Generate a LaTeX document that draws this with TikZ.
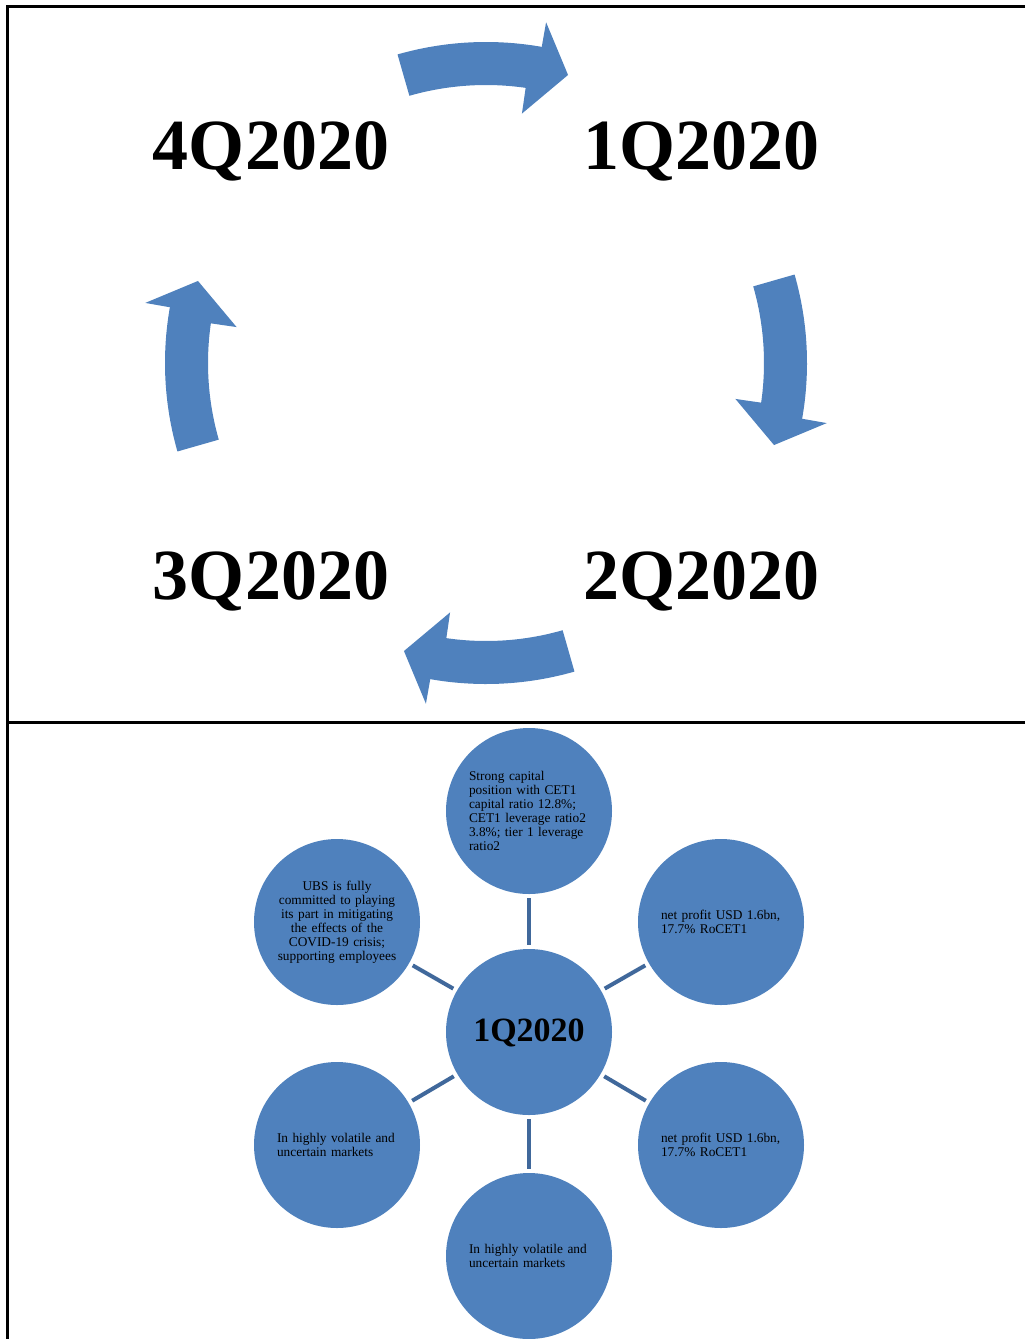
\documentclass[tikz,border=0pt]{standalone}
\usepackage{fontspec}
\setmainfont{Liberation Serif}
\definecolor{arrowblue}{RGB}{79,129,189}
\definecolor{linkblue}{RGB}{64,104,155}
\begin{document}
\begin{tikzpicture}[x=0.75pt,y=-0.75pt,
  frame/.style={line width=2.25pt,black,line join=miter},
  cyclearrow/.style={fill=arrowblue,draw=none},
  quarter/.style={font=\fontsize{54}{60}\selectfont\bfseries,inner sep=0pt},
  bubble/.style={circle,fill=arrowblue,minimum size=124.5pt,inner sep=0pt,
    font=\fontsize{10}{10.5}\selectfont,text width=90pt},
  hub/.style={circle,fill=arrowblue,minimum size=124.5pt,inner sep=0pt,
    font=\fontsize{25.5}{28}\selectfont\bfseries},
  link/.style={draw=linkblue,line width=3pt,shorten <=3pt,shorten >=3pt}]
\useasboundingbox (0,0) rectangle (1025,1339);
% frame
\draw[frame] (1025,6) -- (7,6) -- (7,1339);
\draw[frame] (7,722) -- (1025,722);
% cycle arrows
\begin{scope}[shift={(486,363)},yscale=-1]
\foreach \c in {90,0,-90,180} {
  \fill[cyclearrow] ({\c+16}:321) arc[start angle={\c+16},end angle={\c-10},radius=321]
    -- ({\c-10}:346) -- ({\c-15.9}:299.5) -- ({\c-8.2}:252) -- ({\c-8.2}:278)
    arc[start angle={\c-8.2},end angle={\c+16},radius=278] -- cycle;
}
\end{scope}
% quarter labels
\node[quarter] (q4) at (271,151) {4Q2020};
\node[quarter] (q1) at (701,151) {1Q2020};
\node[quarter] (q3) at (271,581) {3Q2020};
\node[quarter] (q2) at (701,581) {2Q2020};
% hub and spokes
\node[hub,text depth=3pt] (c) at (529,1032) {1Q2020};
\node[bubble,align=left] (t) at (529,811) {Strong capital\\position with CET1\\capital ratio 12.8\%;\\CET1 leverage ratio2\\3.8\%; tier 1 leverage\\ratio2};
\node[bubble,align=left] (ur) at (721,922) {net profit USD 1.6bn,\\17.7\% RoCET1};
\node[bubble,align=left] (lr) at (721,1145) {net profit USD 1.6bn,\\17.7\% RoCET1};
\node[bubble,align=left] (b) at (529,1256) {In highly volatile and\\uncertain markets};
\node[bubble,align=left] (ll) at (337,1145) {In highly volatile and\\uncertain markets};
\node[bubble,align=center] (ul) at (337,922) {UBS is fully\\committed to playing\\its part in mitigating\\the effects of the\\COVID-19 crisis;\\supporting employees};
\foreach \n in {t,ur,lr,b,ll,ul} \draw[link] (c) -- (\n);
\end{tikzpicture}
\end{document}
